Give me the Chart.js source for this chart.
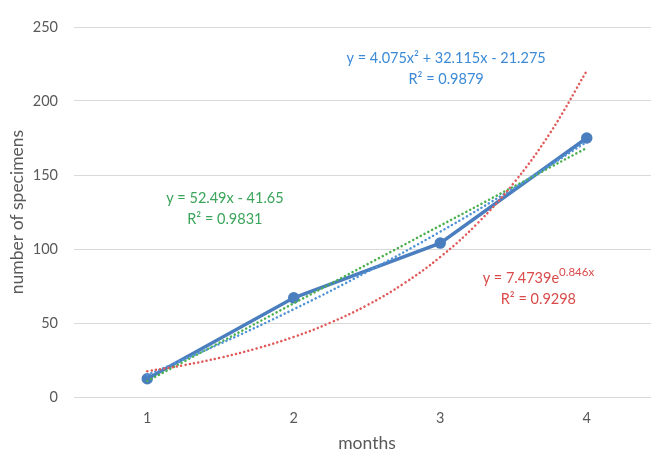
<!DOCTYPE html>
<html>
<head>
<meta charset="utf-8">
<script src="https://cdn.jsdelivr.net/npm/chart.js@4.4.1/dist/chart.umd.min.js"></script>
<style>
  html, body { margin: 0; padding: 0; background: #fff; overflow: hidden; }
  #wrap { width: 668px; height: 454px; position: relative; }
</style>
</head>
<body>
<div id="wrap"><canvas id="graficoMeses"></canvas></div>
<script>
// observed data
var months = [1, 2, 3, 4];
var specimens = [12.3, 67, 104, 175];
var yTicks = [0, 50, 100, 150, 200, 250];

// trendlines, values
var linX = [1, 4];
var linY = [10.8, 168.3];
var polyX = [1, 1.5, 2, 2.5, 3, 3.5, 4];
var polyY = [14.9, 36.1, 59.3, 84.5, 111.7, 141.0, 172.4];
var expX = [1, 1.25, 1.5, 1.75, 2, 2.25, 2.5, 2.75, 3, 3.25, 3.5, 3.75, 4];
var expY = [17.4, 21.5, 26.6, 32.9, 40.6, 50.2, 62.0, 76.6, 94.6, 116.9, 144.4, 178.4, 220.4];

// trendline labels: [x, y] in data units
var polyLabel = { pos: [3.04, 229], lines: ['y = 4.075x² + 32.115x - 21.275', 'R² = 0.9879'], color: '#3b8ad6' };
var linLabel = { pos: [1.53, 134.5], lines: ['y = 52.49x - 41.65', 'R² = 0.9831'], color: '#3aa55a' };
var expLabel = { pos: [3.67, 80.4], lines: ['y = 7.4739e', 'R² = 0.9298'], sup: '0.846x', color: '#d94a4a' };

function pts(xs, ys) {
    return xs.map(function (x, i) { return { x: x, y: ys[i] }; });
}

var FONT = 'Lato, "Open Sans", sans-serif';

var trendLabels = {
    id: 'trendLabels',
    afterDatasetsDraw: function (chart) {
        var c = chart.ctx, sx = chart.scales.x, sy = chart.scales.y;
        c.save();
        c.font = '14.5px ' + FONT;
        c.textBaseline = 'middle';
        [polyLabel, linLabel].forEach(function (l) {
            var px = sx.getPixelForValue(l.pos[0]);
            var py = sy.getPixelForValue(l.pos[1]);
            c.fillStyle = l.color;
            c.textAlign = 'center';
            c.fillText(l.lines[0], px, py);
            c.fillText(l.lines[1], px, py + 21);
        });
        // exponential with superscript
        var l = expLabel;
        var px = sx.getPixelForValue(l.pos[0]);
        var py = sy.getPixelForValue(l.pos[1]);
        c.fillStyle = l.color;
        var w1 = c.measureText(l.lines[0]).width;
        c.font = '11.5px ' + FONT;
        var w2 = c.measureText(l.sup).width;
        var left = px - (w1 + w2) / 2;
        c.textAlign = 'left';
        c.fillText(l.sup, left + w1, py - 6);
        c.font = '14.5px ' + FONT;
        c.fillText(l.lines[0], left, py);
        c.textAlign = 'center';
        c.fillText(l.lines[1], px, py + 21);
        c.restore();
    }
};

function dotted(data, color) {
    return {
        data: data,
        borderColor: color,
        borderWidth: 2.5,
        borderDash: [0.1, 4.2],
        borderCapStyle: 'round',
        pointRadius: 0,
        tension: 0.4,
        fill: false,
        order: 0
    };
}

var ctx = document.getElementById('graficoMeses');

var myChart = new Chart(ctx, {
    type: 'line',
    data: {
        datasets: [
            {
                data: pts(months, specimens),
                borderColor: '#4a7ebf',
                backgroundColor: '#4a7ebf',
                borderWidth: 3.5,
                pointRadius: 4,
                pointHoverRadius: 4,
                tension: 0,
                order: 1
            },
            dotted(pts(expX, expY), '#e05a5a'),
            dotted(pts(polyX, polyY), '#4f93d6'),
            dotted(pts(linX, linY), '#4caf50')
        ]
    },
    options: {
        responsive: true,
        maintainAspectRatio: false,
        animation: false,
        layout: { padding: { top: 27, right: 8, bottom: 0, left: 0 } },
        plugins: {
            legend: { display: false },
            tooltip: { enabled: false }
        },
        scales: {
            x: {
                type: 'linear',
                min: 0.5,
                max: 4.5,
                afterBuildTicks: function (axis) {
                    axis.ticks = months.map(function (m) { return { value: m }; });
                },
                afterFit: function (axis) { axis.height = 57; },
                grid: { display: false, drawTicks: false },
                border: { display: true, color: '#d9d9d9', width: 1 },
                ticks: { color: '#595959', font: { family: FONT, size: 14.5 }, padding: 13 },
                title: {
                    display: true,
                    text: 'months',
                    color: '#595959',
                    font: { family: FONT, size: 17.5 },
                    padding: { top: 4, bottom: 0 }
                }
            },
            y: {
                min: 0,
                max: 250,
                afterBuildTicks: function (axis) {
                    axis.ticks = yTicks.map(function (v) { return { value: v }; });
                },
                afterFit: function (axis) { axis.width = 74; },
                grid: { color: '#d9d9d9', drawTicks: false },
                border: { display: false },
                ticks: { color: '#595959', font: { family: FONT, size: 14.5 }, padding: 16 },
                title: {
                    display: true,
                    text: 'number of specimens',
                    color: '#595959',
                    font: { family: FONT, size: 17.5 },
                    padding: { top: 7, bottom: 0 }
                }
            }
        }
    },
    plugins: [trendLabels]
});
</script>
</body>
</html>
